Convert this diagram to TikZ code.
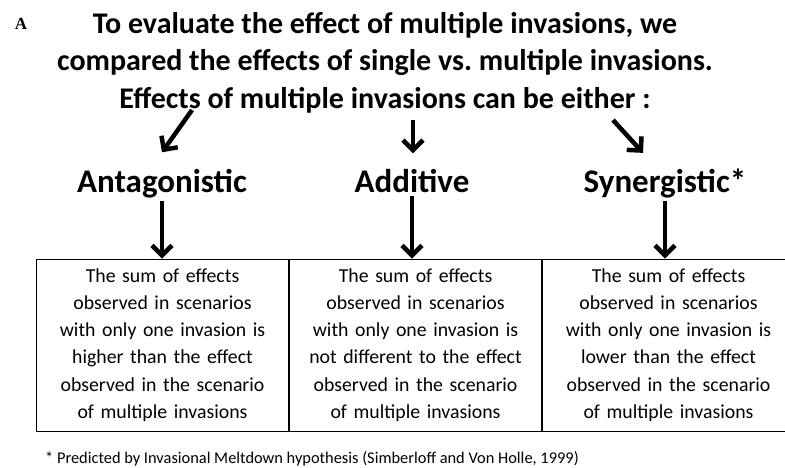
\documentclass[tikz,border=0pt]{standalone}
\usepackage{fontspec}
\setmainfont{Carlito}
\newfontfamily\panelfont{Liberation Serif}
\usetikzlibrary{arrows.meta}
\usetikzlibrary{positioning}

\tikzset{
  kind/.style={font=\fontsize{33}{40}\selectfont\bfseries},
  cell/.style={draw, line width=1pt, minimum width=252pt, minimum height=172pt,
    text width=245pt, align=center, inner sep=0pt,
    font=\fontsize{19.8}{27.2}\selectfont},
  bigarrow/.style={line width=4.5pt,
    -{Straight Barb[length=10pt,width=20pt,line width=4.5pt]}}
}

\begin{document}
\begin{tikzpicture}[x=1pt,y=-1pt]
\useasboundingbox (0,0) rectangle (785,467);
\node[font=\panelfont\fontsize{17}{20}\selectfont\bfseries] (panel) at (21,24) {A};
\node[anchor=base, align=center, font=\fontsize{30}{37.5}\selectfont\bfseries] (title) at (385,108)
  {To evaluate the effect of multiple invasions, we\\
   compared the effects of single vs.\ multiple invasions.\\
   Effects of multiple invasions can be either :};
\node[kind, anchor=base] (anta) at (162,192) {Antagonistic};
\node[kind, anchor=base] (addi) at (412,192) {Additive};
\node[kind, anchor=base] (syne) at (665,192) {Synergistic*};
\coordinate (fromanta) at (192,110);
\coordinate (fromaddi) at (413,120);
\coordinate (fromsyne) at (613,120);
\node[cell] (cella) at (162.5,345) {The sum of effects\\ observed in scenarios\\ with only one invasion is\\
  higher than the effect\\ observed in the scenario\\ of multiple invasions};
\node[cell, right=0pt of cella] (celld) {The sum of effects\\ observed in scenarios\\ with only one invasion is\\
  not different to the effect\\ observed in the scenario\\ of multiple invasions};
\node[cell, right=0pt of celld] (cells) {The sum of effects\\ observed in scenarios\\ with only one invasion is\\
  lower than the effect\\ observed in the scenario\\ of multiple invasions};
\node[anchor=base west, inner sep=0pt, font=\fontsize{16.4}{19}\selectfont] (note) at (45,463)
  {* Predicted by Invasional Meltdown hypothesis (Simberloff and Von Holle, 1999)};
\draw[bigarrow] (fromanta) -- ([shift={(0,-13)}]anta.north);
\draw[bigarrow] (fromaddi) -- ([shift={(1,-12)}]addi.north);
\draw[bigarrow] (fromsyne) -- ([shift={(-22,-12)}]syne.north);
\draw[bigarrow] (anta.south) -- (anta.south |- cella.north);
\draw[bigarrow] (addi.south) -- (addi.south |- celld.north);
\draw[bigarrow] (syne.south) -- (syne.south |- cells.north);
\end{tikzpicture}
\end{document}
